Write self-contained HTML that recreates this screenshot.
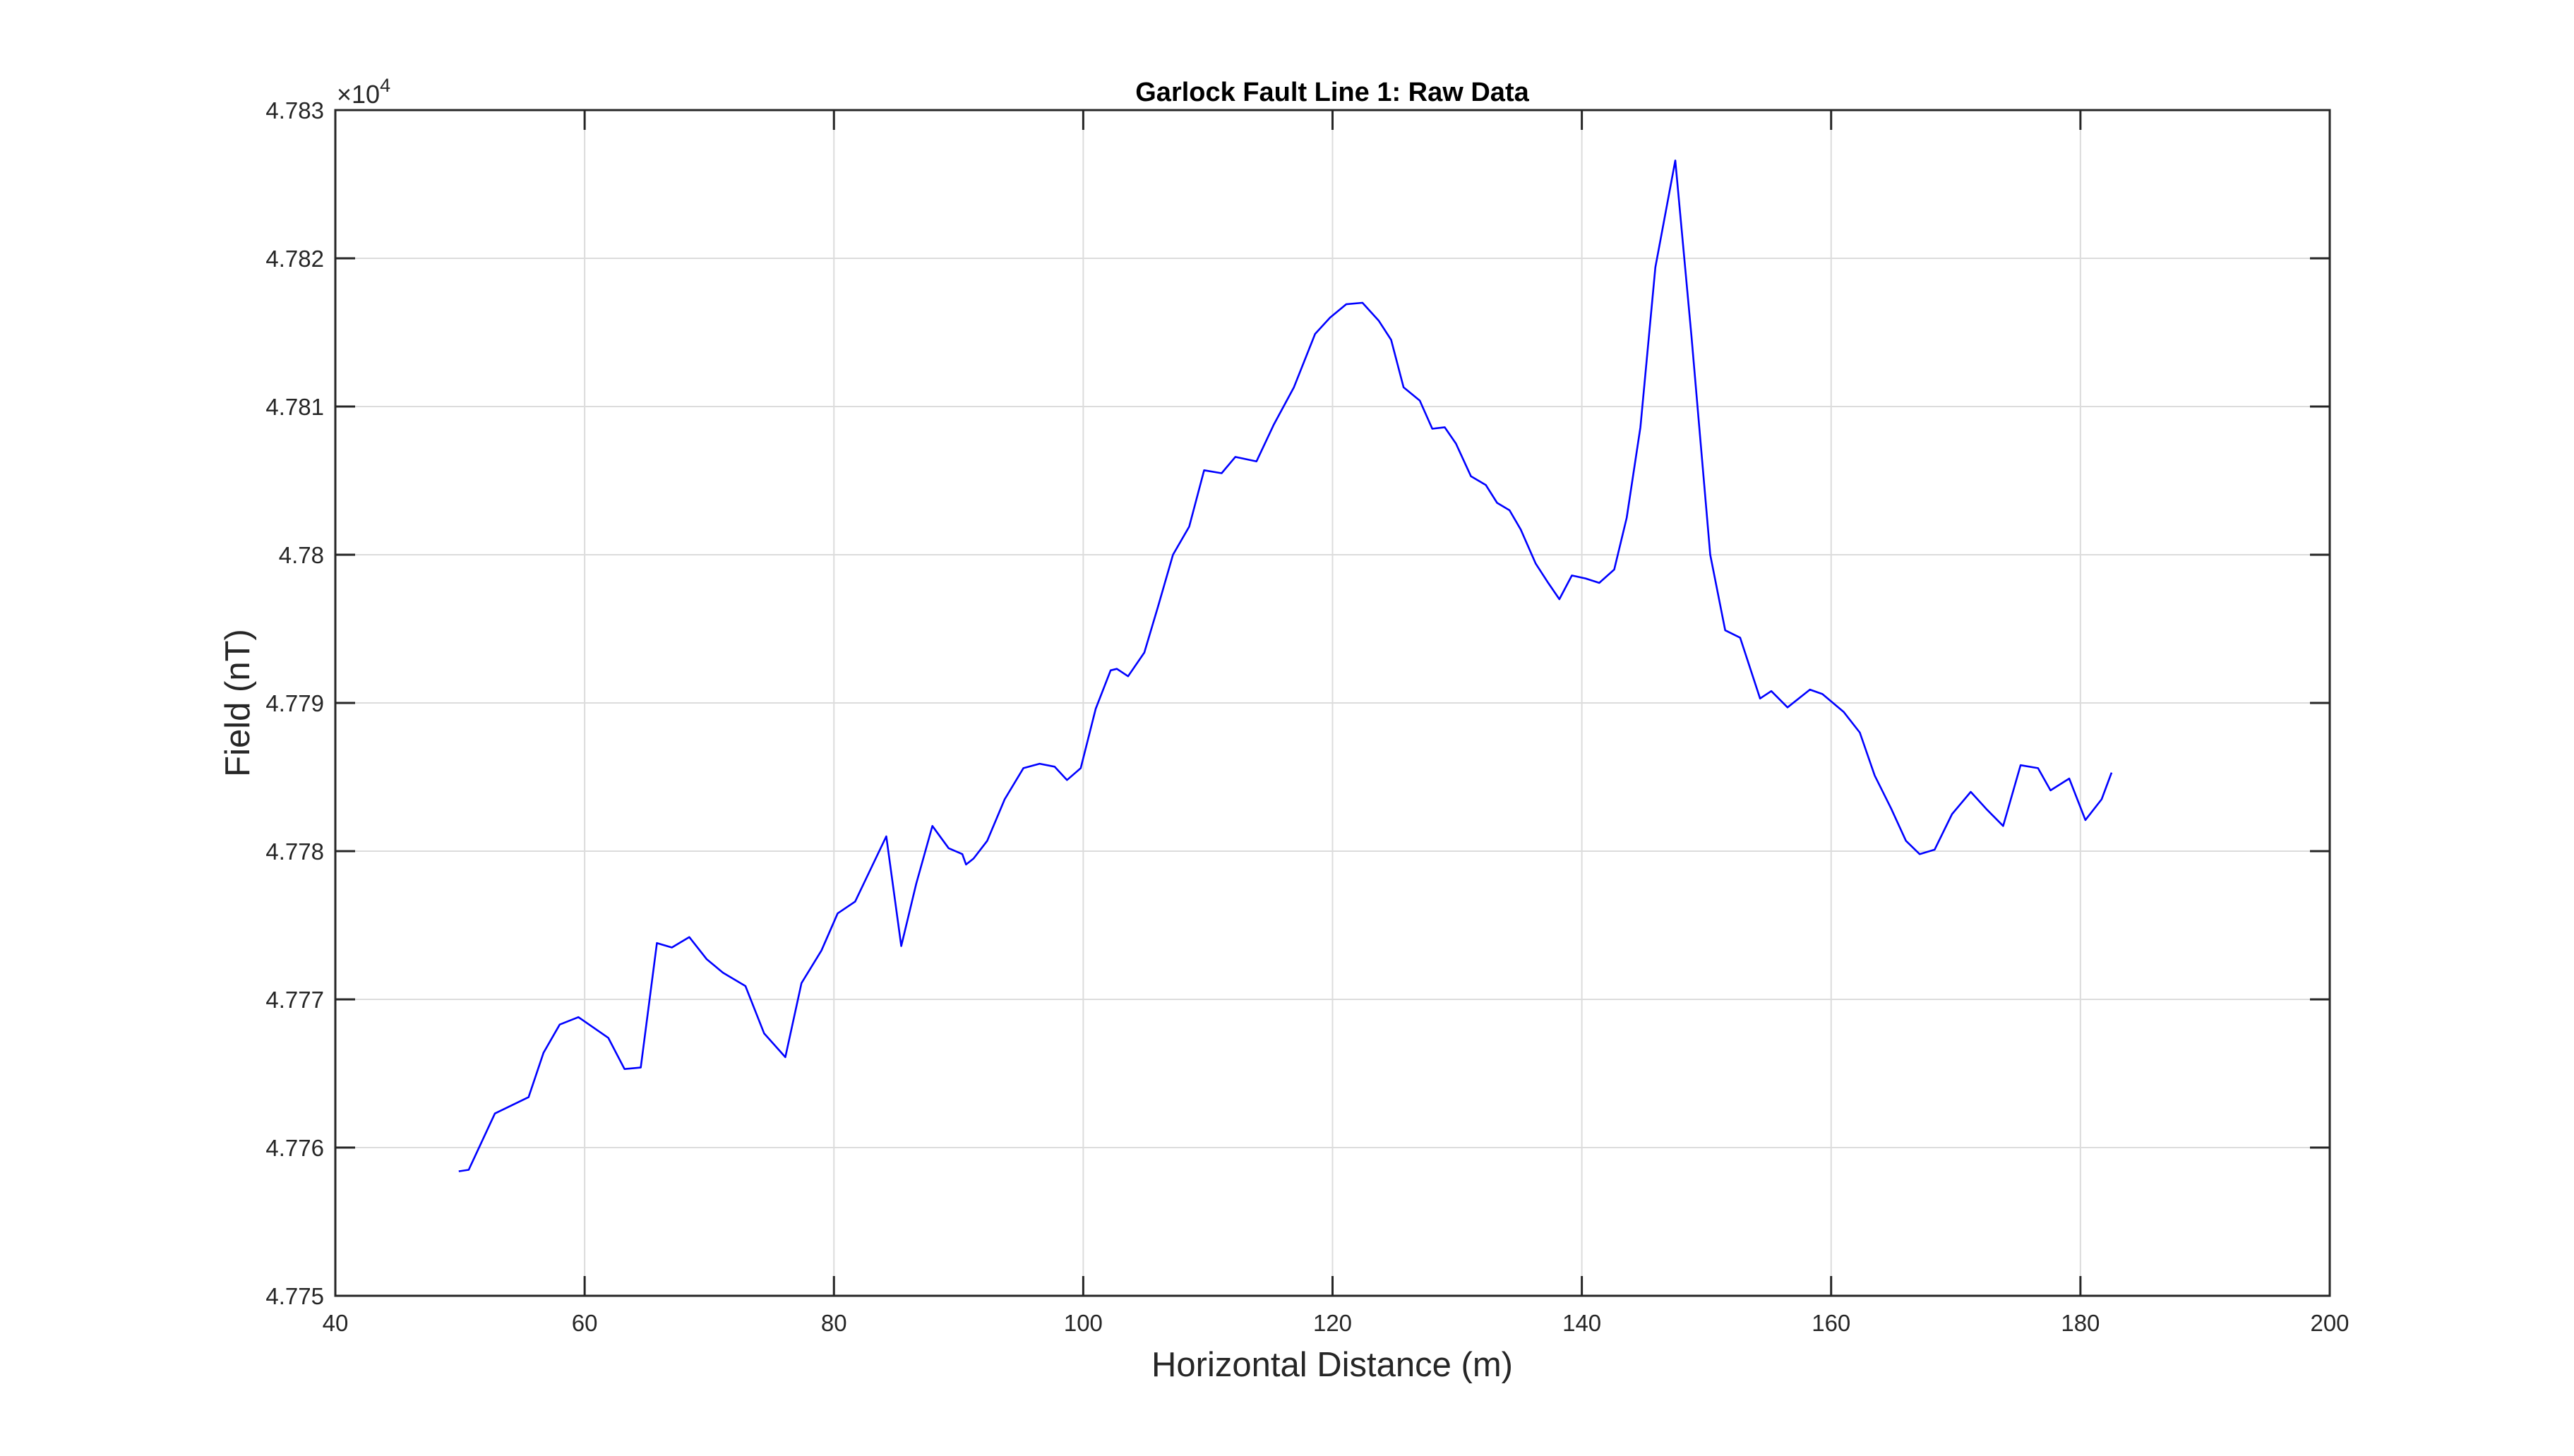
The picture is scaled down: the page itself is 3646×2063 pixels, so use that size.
<!DOCTYPE html>
<html><head><meta charset="utf-8"><style>
html,body{margin:0;padding:0;background:#fff;}
svg{display:block;font-family:"Liberation Sans",Arial,sans-serif;}
</style></head><body>
<svg id="chart" width="3646" height="2063" xmlns="http://www.w3.org/2000/svg">
<rect width="3646" height="2063" fill="#fff"/>
<g id="grid"></g>
<g id="ticks"></g>
<path id="series" fill="none" stroke="#0000ff" stroke-width="2.6" stroke-linejoin="round"/>
<rect x="475" y="156" width="2825" height="1680" fill="none" stroke="#262626" stroke-width="3"/>
<text x="1887" y="143" text-anchor="middle" font-size="38" font-weight="bold" fill="#000">Garlock Fault Line 1: Raw Data</text>
<text x="1887" y="1950" text-anchor="middle" font-size="49" fill="#262626">Horizontal Distance (m)</text>
<text transform="translate(353,996) rotate(-90)" text-anchor="middle" font-size="49" fill="#262626">Field (nT)</text>
<text x="477" y="146" font-size="36" fill="#262626">×10<tspan dy="-16" font-size="27">4</tspan></text>
</svg>
<script>
const xs=[49.9,50.7,52.8,55.5,56.7,58.0,59.5,61.9,63.2,64.5,65.8,67.0,68.4,69.8,71.1,72.9,74.4,76.1,77.4,79.0,80.3,81.7,84.2,85.4,86.6,87.9,89.2,90.3,90.6,91.2,92.3,93.7,95.2,96.5,97.7,98.7,99.8,101.0,102.2,102.7,103.6,104.9,106.0,107.2,108.5,109.7,111.1,112.2,113.9,115.3,116.9,118.6,119.8,121.1,122.4,123.7,124.7,125.7,127.0,128.0,129.0,129.9,131.1,132.3,133.2,134.2,135.1,136.3,137.3,138.2,139.2,140.3,141.4,142.6,143.6,144.7,145.9,147.5,148.8,150.3,151.5,152.7,154.3,155.2,156.5,158.3,159.3,161.0,162.3,163.5,164.8,166.0,167.1,168.3,169.7,171.2,172.5,173.8,175.2,176.6,177.6,179.1,180.4,181.7,182.5];
const ys=[47758.4,47758.5,47762.3,47763.4,47766.4,47768.3,47768.8,47767.4,47765.3,47765.4,47773.8,47773.5,47774.2,47772.7,47771.8,47770.9,47767.7,47766.1,47771.1,47773.3,47775.8,47776.6,47781.0,47773.6,47777.8,47781.7,47780.2,47779.8,47779.1,47779.5,47780.7,47783.5,47785.6,47785.9,47785.7,47784.8,47785.6,47789.6,47792.2,47792.3,47791.8,47793.4,47796.5,47800.0,47801.9,47805.7,47805.5,47806.6,47806.3,47808.8,47811.3,47814.9,47816.0,47816.9,47817.0,47815.8,47814.5,47811.3,47810.4,47808.5,47808.6,47807.5,47805.3,47804.7,47803.5,47803.0,47801.7,47799.4,47798.1,47797.0,47798.6,47798.4,47798.1,47799.0,47802.5,47808.6,47819.4,47826.6,47814.7,47800.0,47794.9,47794.4,47790.3,47790.8,47789.7,47790.9,47790.6,47789.4,47788.0,47785.1,47782.9,47780.7,47779.8,47780.1,47782.5,47784.0,47782.8,47781.7,47785.8,47785.6,47784.1,47784.9,47782.1,47783.5,47785.3];
const xTicks=[40,60,80,100,120,140,160,180,200];
const yTicks=[47750,47760,47770,47780,47790,47800,47810,47820,47830];
const yTickLabels=["4.775","4.776","4.777","4.778","4.779","4.78","4.781","4.782","4.783"];
const L=475,R=3300,T=156,B=1836;
function sx(v){return L+(v-40)/(200-40)*(R-L);}
function sy(v){return B-(v-47750)/(47830-47750)*(B-T);}
const NS="http://www.w3.org/2000/svg";
const grid=document.getElementById('grid'),ticks=document.getElementById('ticks');
function mk(tag,attrs,parent){const e=document.createElementNS(NS,tag);for(const k in attrs)e.setAttribute(k,attrs[k]);parent.appendChild(e);return e;}
xTicks.forEach(v=>{const x=sx(v);
 const g=mk('line',{x1:x,x2:x,y1:T,y2:B,stroke:'#dcdcdc','stroke-width':2},grid);
 
 
 const t1=mk('line',{x1:x,x2:x,y1:B,y2:B-28,stroke:'#262626','stroke-width':3},ticks);
 
 
 const t2=mk('line',{x1:x,x2:x,y1:T,y2:T+28,stroke:'#262626','stroke-width':3},ticks);
 
 
 const lb=mk('text',{x:x,y:1886,'text-anchor':'middle','font-size':33,fill:'#262626'},ticks);
 lb.textContent=String(v);
 
 
});
yTicks.forEach((v,i)=>{const y=sy(v);
 const g=mk('line',{x1:L,x2:R,y1:y,y2:y,stroke:'#dcdcdc','stroke-width':2},grid);
 
 
 const t1=mk('line',{x1:L,x2:L+28,y1:y,y2:y,stroke:'#262626','stroke-width':3},ticks);
 
 
 const t2=mk('line',{x1:R,x2:R-28,y1:y,y2:y,stroke:'#262626','stroke-width':3},ticks);
 
 
 const lb=mk('text',{x:L-16,y:y+12,'text-anchor':'end','font-size':33,fill:'#262626'},ticks);
 lb.textContent=yTickLabels[i];
 
 
});
document.getElementById('series').setAttribute('d',xs.map((x,i)=>(i?'L':'M')+sx(x).toFixed(1)+' '+sy(ys[i]).toFixed(1)).join(' '));
</script>
</body></html>
